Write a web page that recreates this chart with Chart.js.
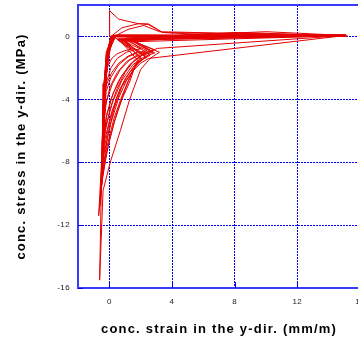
<!DOCTYPE html>
<html>
<head>
<meta charset="utf-8">
<script src="https://cdn.jsdelivr.net/npm/chart.js@4.4.1/dist/chart.umd.min.js"></script>
<style>
  html, body { margin: 0; padding: 0; background: #fff; overflow: hidden; }
</style>
</head>
<body>
<canvas id="c" width="366" height="339"></canvas>
<script>
// axis ticks
const xTicks = [0, 4, 8, 12, 16]
const yTicks = [-16, -12, -8, -4, 0]

// cyclic concrete response, [strain (mm/m), stress (MPa)]
const loopTension = [[0, 0], [0.02, 1.65], [0.1, 1.55], [0.6, 1.1], [1.9, 0.8], [2.5, 0.8], [3.4, 0.25], [6, 0.12], [10, 0.08], [15.2, 0.03], [0.4, 0.05], [0.1, 0]]
const loopUp1 = [[0.05, -0.05], [0.8, 0.55], [1.9, 0.82], [2.5, 0.75], [3.4, 0.25], [15.1, 0.05], [0.2, 0]]
const loopUp2 = [[0.1, -0.1], [1.2, 0.45], [2.2, 0.7], [3.2, 0.3], [15.1, 0.04], [0.3, 0.02]]
const loopA = [[0.15, -0.1], [-0.1, -1], [-0.2, -2.2], [-0.25, -3.5], [-0.15, -2.8], [0.1, -2.0], [0.5, -1.4], [1.1, -1.0], [1.6, -0.85], [2.0, -0.8], [0.6, -0.15], [15.1, 0.04], [0.3, 0.02]]
const loopB = [[0.3, 0.02], [-0.05, -0.8], [-0.25, -2.5], [-0.3, -4.5], [-0.2, -3.5], [0.1, -2.6], [0.6, -1.8], [1.2, -1.3], [1.9, -1.0], [2.4, -0.9], [1.0, -0.2], [6, 0.1], [15.1, 0.06], [0.4, 0]]
const loopC = [[0.4, 0], [-0.05, -1], [-0.3, -3], [-0.35, -5.5], [-0.25, -4.4], [0.05, -3.2], [0.5, -2.3], [1.1, -1.6], [1.9, -1.1], [2.9, -0.85], [1.4, -0.25], [8, 0.2], [15.1, 0.05], [0.2, 0.05]]
const loopD = [[0.2, 0.05], [-0.15, -1.2], [-0.35, -3.5], [-0.35, -6.5], [-0.2, -5.2], [0.1, -4], [0.6, -2.8], [1.3, -1.8], [2.2, -1.1], [3.06, -0.76], [15.06, 0.06], [0.5, 0.1]]
const loopE = [[0.5, 0.1], [0, -0.5], [-0.3, -2.5], [-0.4, -5], [-0.4, -7.5], [-0.25, -6], [0.05, -4.6], [0.5, -3.3], [1.0, -2.3], [1.6, -1.5], [2.2, -1.1], [0.8, -0.3], [5, 0.1], [10, 0.3], [12.2, 0.2], [15.06, 0.06], [0.3, 0.08]]
const loopF = [[0.3, 0.08], [-0.1, -0.8], [-0.35, -3], [-0.4, -6], [-0.45, -8.5], [-0.3, -7], [0, -5.5], [0.5, -3.8], [1.0, -2.7], [1.7, -1.7], [2.6, -1.2], [1.2, -0.2], [7, 0.1], [15.1, 0.03], [0.2, 0]]
const loopG = [[0.2, 0], [-0.2, -1.5], [-0.38, -4], [-0.45, -7], [-0.5, -9.5], [-0.35, -8], [-0.1, -6.3], [0.3, -4.6], [0.8, -3.2], [1.5, -2.2], [2.0, -1.7], [2.5, -1.4], [15.06, 0.06], [0.4, 0.02]]
const loopH = [[0.4, 0.02], [-0.15, -1], [-0.38, -3.5], [-0.45, -7], [-0.55, -10.2], [-0.4, -8.5], [-0.15, -7], [0.3, -5.2], [0.8, -3.8], [1.3, -2.6], [1.7, -1.8], [2.0, -1.3], [0.5, -0.2], [15.1, 0.05], [0.3, 0.05]]
const loopI = [[0.3, 0.05], [-0.2, -1.2], [-0.38, -4], [-0.5, -8], [-0.68, -11.4], [-0.5, -9.5], [-0.2, -7.5], [0.3, -5.5], [0.8, -4], [1.3, -2.9], [1.6, -2.0], [1.8, -1.5], [0.7, -0.3], [6, 0.1], [15.1, 0.04], [0.2, 0.03]]
const loopJ = [[0.2, 0.03], [-0.2, -1], [-0.38, -4], [-0.5, -9], [-0.62, -15.5], [-0.4, -9.8], [0.06, -8], [0.7, -6], [1.3, -4], [2.0, -2.1], [2.6, -1.4], [3.2, -1.0], [1.5, -0.3], [7, 0.05], [15.1, 0.02], [0.1, 0]]
const loopK = [[0.1, 0], [-0.05, -0.6], [-0.15, -1.5], [-0.2, -2.5], [-0.1, -1.9], [0.15, -1.4], [0.5, -1.1], [1.0, -0.9], [1.4, -0.8], [0.4, -0.1], [15.1, 0.05], [0.3, 0.05]]
const loopL = [[0.3, 0.05], [0.05, -0.6], [-0.2, -2], [-0.3, -3.8], [-0.2, -3.1], [0.15, -2.3], [0.6, -1.7], [1.2, -1.25], [1.8, -1.0], [0.9, -0.15], [15.1, 0.08], [0.2, 0.02]]
const loopM = [[0.2, 0.02], [0, -0.8], [-0.25, -3], [-0.3, -5], [-0.18, -4.1], [0.2, -3.0], [0.7, -2.1], [1.3, -1.5], [2.0, -1.15], [2.7, -1.0], [1.3, -0.2], [5, 0.1], [15.1, 0.1], [0.4, 0.05]]
const loopN = [[0.4, 0.05], [0.1, -0.5], [-0.2, -2.5], [-0.3, -4.5], [-0.3, -6], [-0.15, -4.9], [0.25, -3.6], [0.8, -2.5], [1.4, -1.7], [2.1, -1.2], [2.8, -1.0], [1.1, -0.1], [8, 0.25], [15.1, 0.06], [0.3, 0]]
const loopO = [[0.3, 0], [-0.05, -1], [-0.3, -3.5], [-0.35, -6], [-0.4, -7], [-0.25, -5.8], [0.2, -4.2], [0.8, -2.8], [1.5, -1.8], [2.2, -1.3], [2.9, -1.05], [1.5, -0.2], [15.1, 0.07], [0.2, 0.05]]
const loopP = [[0.2, 0.05], [-0.1, -1.2], [-0.3, -4], [-0.4, -7], [-0.45, -8], [-0.3, -6.6], [0.15, -4.8], [0.7, -3.3], [1.3, -2.3], [1.9, -1.6], [2.4, -1.3], [0.6, -0.25], [15.1, 0.04], [0.3, 0.03]]
const loopQ = [[0.3, 0.03], [-0.15, -1.5], [-0.35, -4.5], [-0.42, -7.5], [-0.5, -9], [-0.35, -7.5], [0.1, -5.5], [0.6, -3.9], [1.1, -2.8], [1.6, -2.0], [2.1, -1.5], [1.0, -0.35], [15.1, 0.05], [0.1, 0.02]]
const loopR = [[0.1, 0.02], [-0.2, -1.5], [-0.4, -5], [-0.5, -8.5], [-0.6, -10.8], [-0.45, -9], [0, -6.6], [0.5, -4.8], [1.0, -3.4], [1.4, -2.4], [1.8, -1.7], [2.3, -1.3], [0.8, -0.2], [6, 0.1], [15.1, 0.03], [0.2, 0]]

const loops = [loopTension, loopUp1, loopUp2, loopA, loopB, loopC, loopD, loopE, loopF, loopG, loopH, loopI, loopJ, loopK, loopL, loopM, loopN, loopO, loopP, loopQ, loopR]

const BLUE = '#0000ee'
const FRAME = '#3a3aff'

// letter spacing like the original plot, top frame line, short inner ticks
const frame = {
  id: 'frame',
  beforeDraw (chart) {
    chart.ctx.letterSpacing = '0.4px'
  },
  afterLayout (chart) {
    for (const s of Object.values(chart.scales)) {
      if (s._spaced) continue
      const drawTitle = s.drawTitle.bind(s)
      s.drawTitle = () => {
        s.ctx.save()
        s.ctx.letterSpacing = '1.2px'
        drawTitle()
        s.ctx.restore()
      }
      s._spaced = true
    }
  },
  afterDraw (chart) {
    const { ctx, chartArea: a, scales } = chart
    ctx.save()
    ctx.strokeStyle = FRAME
    ctx.lineWidth = 2
    ctx.beginPath()
    ctx.moveTo(a.left, a.top)
    ctx.lineTo(a.right, a.top)
    ctx.stroke()
    ctx.strokeStyle = BLUE
    ctx.lineWidth = 1
    ctx.beginPath()
    for (const v of xTicks) {
      const px = Math.round(scales.x.getPixelForValue(v)) + 0.5
      ctx.moveTo(px, a.bottom)
      ctx.lineTo(px, a.bottom - 6)
    }
    for (const v of yTicks) {
      const py = Math.round(scales.y.getPixelForValue(v)) + 0.5
      ctx.moveTo(a.left, py)
      ctx.lineTo(a.left + 5, py)
    }
    ctx.stroke()
    ctx.restore()
  }
}

new Chart(document.getElementById('c'), {
  type: 'scatter',
  data: {
    datasets: loops.map(l => ({
      data: l.map(p => ({ x: p[0], y: p[1] })),
      showLine: true,
      borderColor: '#e40000',
      borderWidth: 1,
      pointRadius: 0,
      tension: 0
    }))
  },
  options: {
    responsive: false,
    animation: false,
    layout: { padding: { top: 5, right: 6, left: 0, bottom: 0 } },
    plugins: { legend: { display: false }, tooltip: { enabled: false } },
    scales: {
      x: {
        type: 'linear',
        min: -2,
        max: 16,
        afterBuildTicks (s) { s.ticks = xTicks.map(v => ({ value: v })) },
        afterFit (s) { s.height = 51; s.paddingLeft = 0; s.paddingRight = 0 },
        grid: { color: BLUE, lineWidth: 1, drawTicks: false },
        border: { display: true, color: FRAME, width: 2, dash: [2, 1] },
        ticks: { color: '#222', font: { family: 'Liberation Sans', size: 8 }, padding: 9, maxRotation: 0 },
        title: {
          display: true,
          text: 'conc. strain in the y-dir. (mm/m)',
          color: '#000',
          font: { family: 'Liberation Sans', size: 13, weight: 'bold' },
          padding: { top: 0, bottom: 2 }
        }
      },
      y: {
        type: 'linear',
        min: -16,
        max: 2,
        afterBuildTicks (s) { s.ticks = yTicks.map(v => ({ value: v })) },
        afterFit (s) { s.width = 78; s.paddingTop = 0; s.paddingBottom = 0 },
        grid: { color: BLUE, lineWidth: 1, drawTicks: false },
        border: { display: true, color: FRAME, width: 2, dash: [2, 1] },
        ticks: { color: '#222', font: { family: 'Liberation Sans', size: 8 }, padding: 8 },
        title: {
          display: true,
          text: 'conc. stress in the y-dir. (MPa)',
          color: '#000',
          font: { family: 'Liberation Sans', size: 13, weight: 'bold' },
          padding: { top: 14, bottom: 0 }
        }
      }
    }
  },
  plugins: [frame]
})
</script>
</body>
</html>
